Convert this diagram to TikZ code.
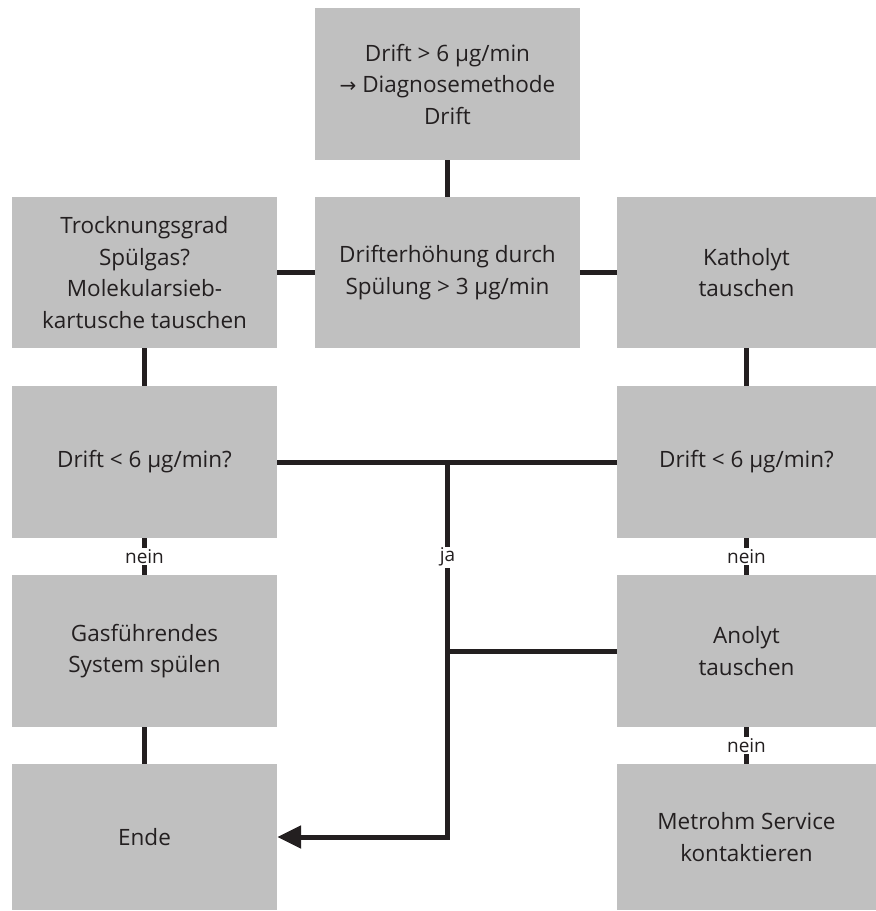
\documentclass[tikz,border=0pt]{standalone}
\usepackage{fontspec}
\setmainfont{Open Sans}
\newfontfamily\arrowfont{DejaVu Sans}
\usetikzlibrary{arrows.meta}

\definecolor{boxgray}{HTML}{C0C0C0}
\definecolor{linedark}{HTML}{231F20}

\tikzset{
	box/.style={fill=boxgray, minimum width=265pt, minimum height=152pt, inner sep=0pt,
		align=center, text=linedark, font=\fontsize{22.5}{31.5}\selectfont},
	conn/.style={draw=linedark, line width=5pt},
	lbl/.style={fill=white, inner sep=1.5pt, text=linedark, font=\fontsize{19}{20}\selectfont}
}

\begin{document}
\begin{tikzpicture}[x=1pt, y=-1pt]
		\useasboundingbox (0, 0) rectangle (876, 911);
		
		% first row
		\node[box] (start) at (447.5, 84) {Drift > 6 µg/min\\{\arrowfont\fontsize{20}{31.5}\selectfont →} Diagnosemethode\\Drift};
		
		% second row
		\node[box, minimum height=151pt] (spuel) at (447.5, 272.5) {Drifterhöhung durch\\Spülung > 3 µg/min};
		\node[box, minimum height=151pt] (sieb) at (144.5, 272.5) {Trocknungsgrad\\Spülgas?\\Molekularsieb-\\kartusche tauschen};
		\node[box, minimum height=151pt, minimum width=259pt] (kath) at (746.5, 272.5) {Katholyt\\tauschen};
		
		% third row
		\node[box] (driftL) at (144.5, 462) {Drift < 6 µg/min?};
		\node[box, minimum width=259pt] (driftR) at (746.5, 462) {Drift < 6 µg/min?};
		
		% fourth row
		\node[box] (gas) at (144.5, 651) {Gasführendes\\System spülen};
		\node[box, minimum width=259pt] (anolyt) at (746.5, 651) {Anolyt\\tauschen};
		
		% fifth row
		\node[box, minimum height=146pt] (ende) at (144.5, 837) {Ende};
		\node[box, minimum height=146pt, minimum width=259pt] (service) at (746.5, 837) {Metrohm Service\\kontaktieren};
		
		\draw[conn] (start) -- (spuel);
		\draw[conn] (sieb) -- (spuel);
		\draw[conn] (spuel) -- (kath);
		\draw[conn] (sieb) -- (driftL);
		\draw[conn] (kath) -- (driftR);
		\draw[conn] (driftL) -- (driftR);
		\draw[conn] (gas) -- (ende);
		
		% nein branches
		\draw[conn] (driftL) -- node[lbl] {nein} (gas);
		\draw[conn] (driftR) -- node[lbl] {nein} (anolyt);
		\draw[conn] (anolyt) -- node[lbl] {nein} (service);
		
		% ja branch down to Ende
		\coordinate (ja) at (spuel |- driftL);
		\draw[conn] (anolyt) -- (ja |- anolyt);
		\draw[conn, -{Triangle[length=24pt, width=22pt]}] (ja) |- node[lbl, pos=0.127] {ja} (ende);
	\end{tikzpicture}
\end{document}
